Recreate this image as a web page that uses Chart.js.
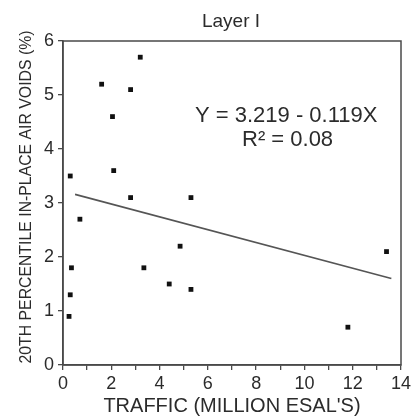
<!DOCTYPE html>
<html>
<head>
<meta charset="utf-8">
<script src="https://cdn.jsdelivr.net/npm/chart.js@4.4.0/dist/chart.umd.min.js"></script>
<style>
  html, body { margin: 0; padding: 0; background: #fff; }
  #wrap { width: 420px; height: 417px; }
</style>
</head>
<body>
<div id="wrap"><canvas id="voidsChart" width="420" height="417"></canvas></div>
<script>
// traffic (million ESALs) vs 20th percentile in-place air voids, layer 1
const traffic  = [3.2, 1.6, 2.8, 2.05, 0.3, 2.1, 2.8, 5.3, 0.7, 0.35, 3.35, 4.85, 13.4, 0.3, 4.4, 5.3, 0.25, 11.8];
const airVoids = [5.7, 5.2, 5.1, 4.6, 3.5, 3.6, 3.1, 3.1, 2.7, 1.8, 1.8, 2.2, 2.1, 1.3, 1.5, 1.4, 0.9, 0.7];

// regression line Y = 3.219 - 0.119X
const fitIntercept = 3.219;
const fitSlope = -0.119;
const fitXRange = [0.5, 13.6];

const xMin = 0, xMax = 14, xStep = 1, xLabelEvery = 2;
const yMin = 0, yMax = 6, yStep = 1;

const titleText = 'Layer I';
const xTitle = 'TRAFFIC (MILLION ESAL\'S)';
const yTitle = '20TH PERCENTILE IN-PLACE AIR VOIDS (%)';
const eqLine1 = 'Y = 3.219 - 0.119X';
const eqLine2 = 'R² = 0.08';

const ink = '#2b2b2b';
const axisColor = '#4a4a4a';
const fontFamily = '"Liberation Sans", Arial, sans-serif';

const points = traffic.map((x, i) => ({ x: x, y: airVoids[i] }));
const fitLine = fitXRange.map(x => ({ x: x, y: fitIntercept + fitSlope * x }));

// frame, titles and equation drawn on top of the chart
const decorations = {
    id: 'decorations',
    afterDraw(chart) {
        const ctx = chart.ctx;
        const a = chart.chartArea;
        ctx.save();
        ctx.strokeStyle = axisColor;
        ctx.lineWidth = 1.5;
        ctx.strokeRect(a.left, a.top, a.right - a.left, a.bottom - a.top);

        ctx.fillStyle = ink;
        ctx.textAlign = 'center';
        ctx.textBaseline = 'alphabetic';
        ctx.font = '19px ' + fontFamily;
        ctx.fillText(titleText, 231, 27);

        ctx.font = '20px ' + fontFamily;
        ctx.fillText(xTitle, 232, 412, 260);

        ctx.save();
        ctx.translate(31, 197);
        ctx.rotate(-Math.PI / 2);
        ctx.font = '17px ' + fontFamily;
        ctx.fillText(yTitle, 0, 0, 333);
        ctx.restore();

        ctx.textAlign = 'left';
        ctx.font = '22px ' + fontFamily;
        ctx.fillText(eqLine1, 195, 122, 186);
        ctx.fillText(eqLine2, 242, 146, 106);
        ctx.restore();
    }
};

new Chart(document.getElementById('voidsChart').getContext('2d'), {
    type: 'scatter',
    data: {
        datasets: [
            {
                label: 'Sections',
                data: points,
                pointStyle: 'rect',
                pointRadius: 3.4,
                pointBackgroundColor: '#111',
                pointBorderWidth: 0
            },
            {
                type: 'line',
                label: 'Fit',
                data: fitLine,
                borderColor: '#555',
                borderWidth: 1.6,
                pointRadius: 0,
                fill: false
            }
        ]
    },
    options: {
        responsive: false,
        animation: false,
        layout: { padding: { top: 41, right: 19, left: 0, bottom: 0 } },
        plugins: {
            legend: { display: false },
            tooltip: { enabled: false }
        },
        scales: {
            x: {
                type: 'linear',
                min: xMin,
                max: xMax,
                afterFit: function (scale) { scale.height = 52; },
                ticks: {
                    stepSize: xStep,
                    autoSkip: false,
                    maxRotation: 0,
                    padding: 3,
                    color: ink,
                    font: { family: fontFamily, size: 18 },
                    callback: function (value) { return value % xLabelEvery === 0 ? value : ''; }
                },
                grid: { drawOnChartArea: false, tickLength: 5, color: axisColor, lineWidth: 1.3 },
                border: { color: axisColor, width: 1.5 }
            },
            y: {
                min: yMin,
                max: yMax,
                afterFit: function (scale) { scale.width = 63; },
                ticks: {
                    stepSize: yStep,
                    padding: 4,
                    color: ink,
                    font: { family: fontFamily, size: 18 }
                },
                grid: { drawOnChartArea: false, tickLength: 5, color: axisColor, lineWidth: 1.3 },
                border: { color: axisColor, width: 1.5 }
            }
        }
    },
    plugins: [decorations]
});
</script>
</body>
</html>
